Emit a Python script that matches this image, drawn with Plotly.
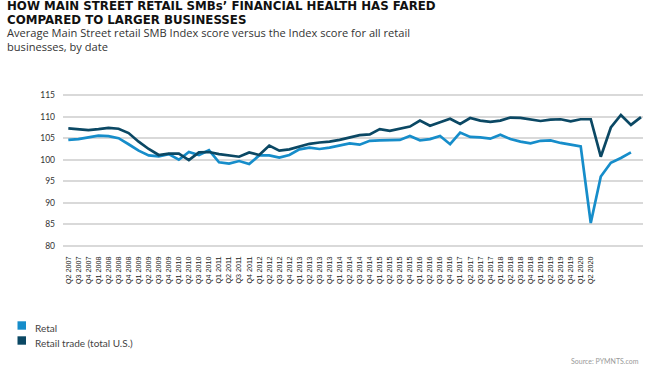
import plotly.graph_objects as go

quarter_labels = [
    "Q2 2007", "Q3 2007", "Q4 2007",
    "Q1 2008", "Q2 2008", "Q3 2008", "Q4 2008",
    "Q1 2009", "Q2 2009", "Q3 2009", "Q4 2009",
    "Q1 2010", "Q2 2010", "Q3 2010", "Q4 2010",
    "Q1 2011", "Q2 2011", "Q3 2011", "Q4 2011",
    "Q1 2012", "Q2 2012", "Q3 2012", "Q4 2012",
    "Q1 2013", "Q2 2013", "Q3 2013", "Q4 2013",
    "Q1 2014", "Q2 2014", "Q3 2014", "Q4 2014",
    "Q1 2015", "Q2 2015", "Q3 2015", "Q4 2015",
    "Q1 2016", "Q2 2016", "Q3 2016", "Q4 2016",
    "Q1 2017", "Q2 2017", "Q3 2017", "Q4 2017",
    "Q1 2018", "Q2 2018", "Q3 2018", "Q4 2018",
    "Q1 2019", "Q2 2019", "Q3 2019", "Q4 2019",
    "Q1 2020", "Q2 2020",
]

retail = [
    104.6, 104.8, 105.2, 105.6, 105.5, 105.0, 103.6, 102.1, 101.0, 100.8,
    101.3, 100.0, 101.8, 101.1, 102.2, 99.4, 99.1, 99.7, 99.0, 101.0,
    101.0, 100.5, 101.1, 102.4, 102.8, 102.5, 102.8, 103.3, 103.8, 103.5,
    104.4, 104.5, 104.5, 104.6, 105.5, 104.5, 104.8, 105.5, 103.6, 106.3,
    105.3, 105.2, 104.9, 105.8, 104.8, 104.2, 103.8, 104.4, 104.5, 103.9,
    103.5, 103.1, 85.3, 96.1, 99.3, 100.4, 101.7,
]

retail_trade = [
    107.3, 107.1, 106.9, 107.1, 107.4, 107.2, 106.2, 104.2, 102.5, 101.1,
    101.4, 101.4, 99.9, 101.7, 101.8, 101.3, 101.0, 100.7, 101.7, 101.1,
    103.3, 102.1, 102.4, 103.1, 103.7, 104.0, 104.2, 104.6, 105.2, 105.7,
    105.9, 107.1, 106.7, 107.2, 107.7, 109.1, 107.9, 108.7, 109.5, 108.3,
    109.7, 109.1, 108.8, 109.1, 109.8, 109.7, 109.3, 109.0, 109.3, 109.4,
    108.9, 109.4, 109.4, 100.7, 107.5, 110.4, 108.1, 109.9,
]

series_names = ["Retal", "Retail trade (total U.S.)"]
y_ticks = [80, 85, 90, 95, 100, 105, 110, 115]

title_lines = [
    "HOW MAIN STREET RETAIL SMBs’ FINANCIAL HEALTH HAS FARED",
    "COMPARED TO LARGER BUSINESSES",
]
subtitle_lines = [
    "Average Main Street retail SMB Index score versus the Index score for all retail",
    "businesses, by date",
]
source_text = "Source: PYMNTS.com"

LIGHT = "#168dca"
DARK = "#0b4864"
BODY_FONT = "Lato"
series_colors = [LIGHT, DARK]

fig = go.Figure()
for name, vals, col in zip(series_names, [retail, retail_trade], series_colors):
    fig.add_trace(go.Scatter(
        x=list(range(len(vals))), y=vals, mode="lines", name=name,
        line=dict(color=col, width=2.7), showlegend=False, hoverinfo="skip",
    ))

# plot area geometry (px)
L, R, T, B = 63, 643, 93, 248
W, H = 652, 368


def xp(px):
    return (px - L) / (R - L)


def yp(py):
    return (B - py) / (B - T)


fig.update_layout(
    width=W, height=H,
    margin=dict(l=L, r=W - R, t=T, b=H - B, pad=0),
    paper_bgcolor="white", plot_bgcolor="white",
    font=dict(family=BODY_FONT, color="#333333"),
    showlegend=False,
    xaxis=dict(
        range=[-0.53, 57.2], tickmode="array",
        tickvals=list(range(len(quarter_labels))), ticktext=quarter_labels,
        tickangle=-90, showgrid=False, zeroline=False, showline=False,
        ticks="", tickfont=dict(size=7.2, color="#222222", family="Liberation Sans"),
        ticklabelstandoff=6,
    ),
    yaxis=dict(
        range=[79.5, 115.5], tickmode="array", tickvals=y_ticks,
        showgrid=True, gridcolor="#d9d9d9", gridwidth=1.5,
        zeroline=False, showline=False, ticks="",
        tickfont=dict(size=8.5, color="#333333"), ticklabelstandoff=7,
    ),
)

# title (one annotation per line for tight leading) & subtitle
for i, line in enumerate(title_lines):
    fig.add_annotation(
        text=f"<b>{line}</b>", xref="paper", yref="paper",
        x=xp(5), y=yp(5.8 + 14.1 * i), xanchor="left", yanchor="middle",
        showarrow=False, font=dict(family="DejaVu Sans", size=11.8, color="#111111"),
    )
fig.add_annotation(
    text="<br>".join(subtitle_lines), xref="paper", yref="paper",
    x=xp(5), y=yp(39.5), xanchor="left", yanchor="middle", align="left",
    showarrow=False, font=dict(family="Open Sans", size=11.1, color="#333333"),
)

# legend (swatch + label)
for i, (name, col) in enumerate(zip(series_names, series_colors)):
    cy = 325.5 + 15 * i
    fig.add_shape(
        type="rect", xref="paper", yref="paper",
        x0=xp(17.5), x1=xp(26), y0=yp(cy - 4.2), y1=yp(cy + 4.2),
        fillcolor=col, line=dict(width=0),
    )
    fig.add_annotation(
        text=name, xref="paper", yref="paper",
        x=xp(33), y=yp(cy + 2), xanchor="left", yanchor="middle",
        showarrow=False, font=dict(family=BODY_FONT, size=10, color="#444444"),
    )

fig.add_annotation(
    text=source_text,
    xref="paper", yref="paper", x=xp(641), y=yp(360.5), xanchor="right", yanchor="middle",
    showarrow=False, font=dict(family=BODY_FONT, size=7, color="#999999"),
)

# the page's default 8px body margin would shift the whole figure; remove it
fig.write_html(
    "out.html",
    config={"displayModeBar": False},
    post_script="document.body.style.margin='0';",
)
